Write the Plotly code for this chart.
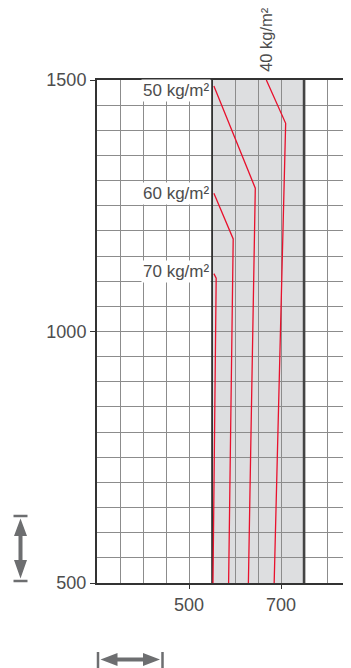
import plotly.graph_objects as go

# ---- data ----
x_ticks = [500, 700]
y_ticks = [500, 1000, 1500]
x_range = [300, 852]
y_range = [500, 1500]
band = [550, 750]

labels = ["40 kg/m²", "50 kg/m²", "60 kg/m²", "70 kg/m²"]
x40 = [668, 710, 685]
y40 = [1500, 1414, 500]
x50 = [554, 644, 629]
y50 = [1488, 1285, 500]
x60 = [554, 596, 586]
y60 = [1275, 1184, 500]
x70 = [554, 559, 552]
y70 = [1115, 1106, 500]

# page body adds an 8px offset; figure is laid out to compensate
OFF = 8
W, H = 351 - OFF, 668 - OFF
ML, MR, MT, MB = 97 - OFF, 0, 80 - OFF, 85
PW, PH = W - ML - MR, H - MT - MB

def px(x):
    # window pixel x -> paper
    return (x - OFF - ML) / PW

def py(y):
    # window pixel y -> paper
    return (H - MB - (y - OFF)) / PH

RED = "#e8112d"
GREY = "#6d6e70"
TXT = "#4d4d4d"
FONT = "Liberation Sans"

fig = go.Figure()
for xs, ys in [(x40, y40), (x50, y50), (x60, y60), (x70, y70)]:
    fig.add_trace(go.Scatter(x=xs, y=ys, mode="lines",
                             line=dict(color=RED, width=1.3),
                             showlegend=False, hoverinfo="skip"))

shapes = [
    dict(type="rect", xref="x", yref="y", x0=band[0], x1=band[1],
         y0=y_range[0], y1=y_range[1], fillcolor="#dddee0",
         line=dict(width=0), layer="below"),
    dict(type="line", xref="x", yref="y", x0=band[0], x1=band[0],
         y0=y_range[0], y1=y_range[1], line=dict(color="#222222", width=1.6),
         layer="between"),
    dict(type="line", xref="x", yref="y", x0=band[1], x1=band[1],
         y0=y_range[0], y1=y_range[1], line=dict(color="#444444", width=2.6),
         layer="between"),
]

# decorative double arrows (scale indicators)
cx = 20.5
vpath = (f"M{px(cx)},{py(518.5)} L{px(27)},{py(536)} L{px(22.5)},{py(536)} "
         f"L{px(22.5)},{py(560)} L{px(27)},{py(560)} L{px(cx)},{py(578.5)} "
         f"L{px(14)},{py(560)} L{px(18.5)},{py(560)} L{px(18.5)},{py(536)} "
         f"L{px(14)},{py(536)} Z")
cy = 659.5
hpath = (f"M{px(100.5)},{py(cy)} L{px(117.5)},{py(653)} L{px(117.5)},{py(657.5)} "
         f"L{px(143)},{py(657.5)} L{px(143)},{py(653)} L{px(160)},{py(cy)} "
         f"L{px(143)},{py(666)} L{px(143)},{py(661.5)} L{px(117.5)},{py(661.5)} "
         f"L{px(117.5)},{py(666)} Z")
for p in (vpath, hpath):
    shapes.append(dict(type="path", xref="paper", yref="paper", path=p,
                       fillcolor=GREY, line=dict(width=0)))
for yy in (516, 581):
    shapes.append(dict(type="line", xref="paper", yref="paper",
                       x0=px(13.5), x1=px(27.5), y0=py(yy), y1=py(yy),
                       line=dict(color=GREY, width=2.5)))
for xx in (98, 162.5):
    shapes.append(dict(type="line", xref="paper", yref="paper",
                       x0=px(xx), x1=px(xx), y0=py(652), y1=py(668),
                       line=dict(color=GREY, width=2.5)))

annotations = []
label_shift = {"50 kg/m²": -4.5, "60 kg/m²": 0, "70 kg/m²": 2.5}
for lab, xs, ys in [(labels[1], x50, y50), (labels[2], x60, y60), (labels[3], x70, y70)]:
    annotations.append(dict(x=band[0], y=ys[0], xref="x", yref="y", text=lab,
                            showarrow=False, xanchor="right", yanchor="middle",
                            xshift=-1, yshift=label_shift[lab], bgcolor="white",
                            borderpad=1,
                            font=dict(family=FONT, size=17, color=TXT)))
annotations.append(dict(x=x40[0], y=y_range[1], xref="x", yref="y", text=labels[0],
                        showarrow=False, textangle=-90, xanchor="center",
                        yanchor="bottom", xshift=-1, yshift=6,
                        font=dict(family=FONT, size=16.5, color=TXT)))

fig.update_layout(
    width=W, height=H,
    margin=dict(l=ML, r=MR, t=MT, b=MB, pad=0),
    paper_bgcolor="white", plot_bgcolor="white",
    shapes=shapes, annotations=annotations,
    font=dict(family=FONT, size=18, color=TXT),
    xaxis=dict(range=x_range, tickvals=x_ticks, ticktext=[str(v) for v in x_ticks],
               showgrid=True, gridcolor="#8c8c8c", gridwidth=1.4,
               minor=dict(tick0=300, dtick=50, showgrid=True, gridcolor="#8c8c8c",
                          gridwidth=1.4, ticks=""),
               showline=True, linecolor="#333333", linewidth=2, mirror=True,
               ticks="outside", ticklen=4, tickcolor="#333333", tickwidth=1,
               zeroline=False, fixedrange=True),
    yaxis=dict(range=y_range, tickvals=y_ticks, ticktext=[str(v) for v in y_ticks],
               showgrid=True, gridcolor="#8c8c8c", gridwidth=1.4,
               minor=dict(tick0=500, dtick=50, showgrid=True, gridcolor="#8c8c8c",
                          gridwidth=1.4, ticks=""),
               showline=True, linecolor="#333333", linewidth=2,
               ticks="outside", ticklen=5, tickcolor="#333333", tickwidth=1,
               zeroline=False, fixedrange=True),
)

fig.write_html("out.html")
